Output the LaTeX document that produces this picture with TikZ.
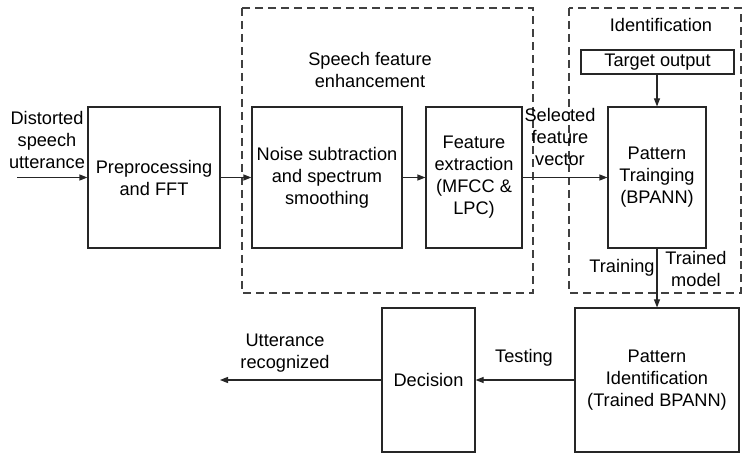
\documentclass[tikz,border=0pt]{standalone}
\usepackage{fontspec}
\setmainfont{Liberation Sans}
\usetikzlibrary{arrows.meta}
\begin{document}
\begin{tikzpicture}[x=1pt,y=-1pt,
  box/.style={draw=black!85,line width=1.1pt,inner sep=0pt,align=center,font=\fontsize{18.2}{22}\selectfont},
  group/.style={draw=black!75,line width=1.1pt,dash pattern=on 8pt off 5pt},
  lbl/.style={align=center,inner sep=0pt,font=\fontsize{18.2}{22}\selectfont},
  arr/.style={draw=black!85,line width=1.1pt,-{Triangle[length=8pt,width=6pt]}}]
\useasboundingbox (0,0) rectangle (742,454);
\fill[white] (0,0) rectangle (742,454);
% groups
\draw[group] (242,8) rectangle (533,293);
\draw[group] (569,8) rectangle (741,293);
\node[lbl] (gfe) at (370,70) {Speech feature\\enhancement};
\node[lbl] (gid) at (661,25) {Identification};
% boxes
\node[box,minimum width=132pt,minimum height=141pt] (pre) at (154,177.5) {Preprocessing\\and FFT};
\node[box,minimum width=150pt,minimum height=141pt] (noise) at (327,177.5) {Noise subtraction\\and spectrum\\smoothing};
\node[box,minimum width=96pt,minimum height=141pt] (feat) at (474,177.5) {Feature\\extraction\\(MFCC \&\\LPC)};
\node[box,minimum width=98pt,minimum height=141pt] (train) at (657,177.5) {Pattern\\Trainging\\(BPANN)};
\node[box,minimum width=153pt,minimum height=24pt] (target) at (657.5,62) {Target output};
\node[box,minimum width=164pt,minimum height=144pt] (pid) at (657,380) {Pattern\\Identification\\(Trained BPANN)};
\node[box,minimum width=93pt,minimum height=144pt] (dec) at (428.5,380) {Decision};
% labels
\node[lbl] (lin) at (47,140) {Distorted\\speech\\utterance};
\node[lbl] (lsel) at (560,137) {Selected\\feature\\vector};
\node[lbl] (ltrain) at (622,268) {Training};
\node[lbl] (lmodel) at (696,269) {Trained\\model};
\node[lbl] (ltest) at (524,358) {Testing};
\node[lbl] (lout) at (285,353) {Utterance\\recognized};
% coordinates
\coordinate (in) at (17,177.5);
\coordinate (out) at (220,380);
% connectors
\draw[arr] (in) -- (pre.west);
\draw[arr] (pre.east) -- (noise.west);
\draw[arr] (noise.east) -- (feat.west);
\draw[arr] (feat.east) -- (train.west);
\draw[arr] (target.south -| train.north) -- (train.north);
\draw[arr] (train.south) -- (train.south |- pid.north);
\draw[arr] (pid.west) -- (dec.east);
\draw[arr] (dec.west) -- (out);
\end{tikzpicture}
\end{document}
